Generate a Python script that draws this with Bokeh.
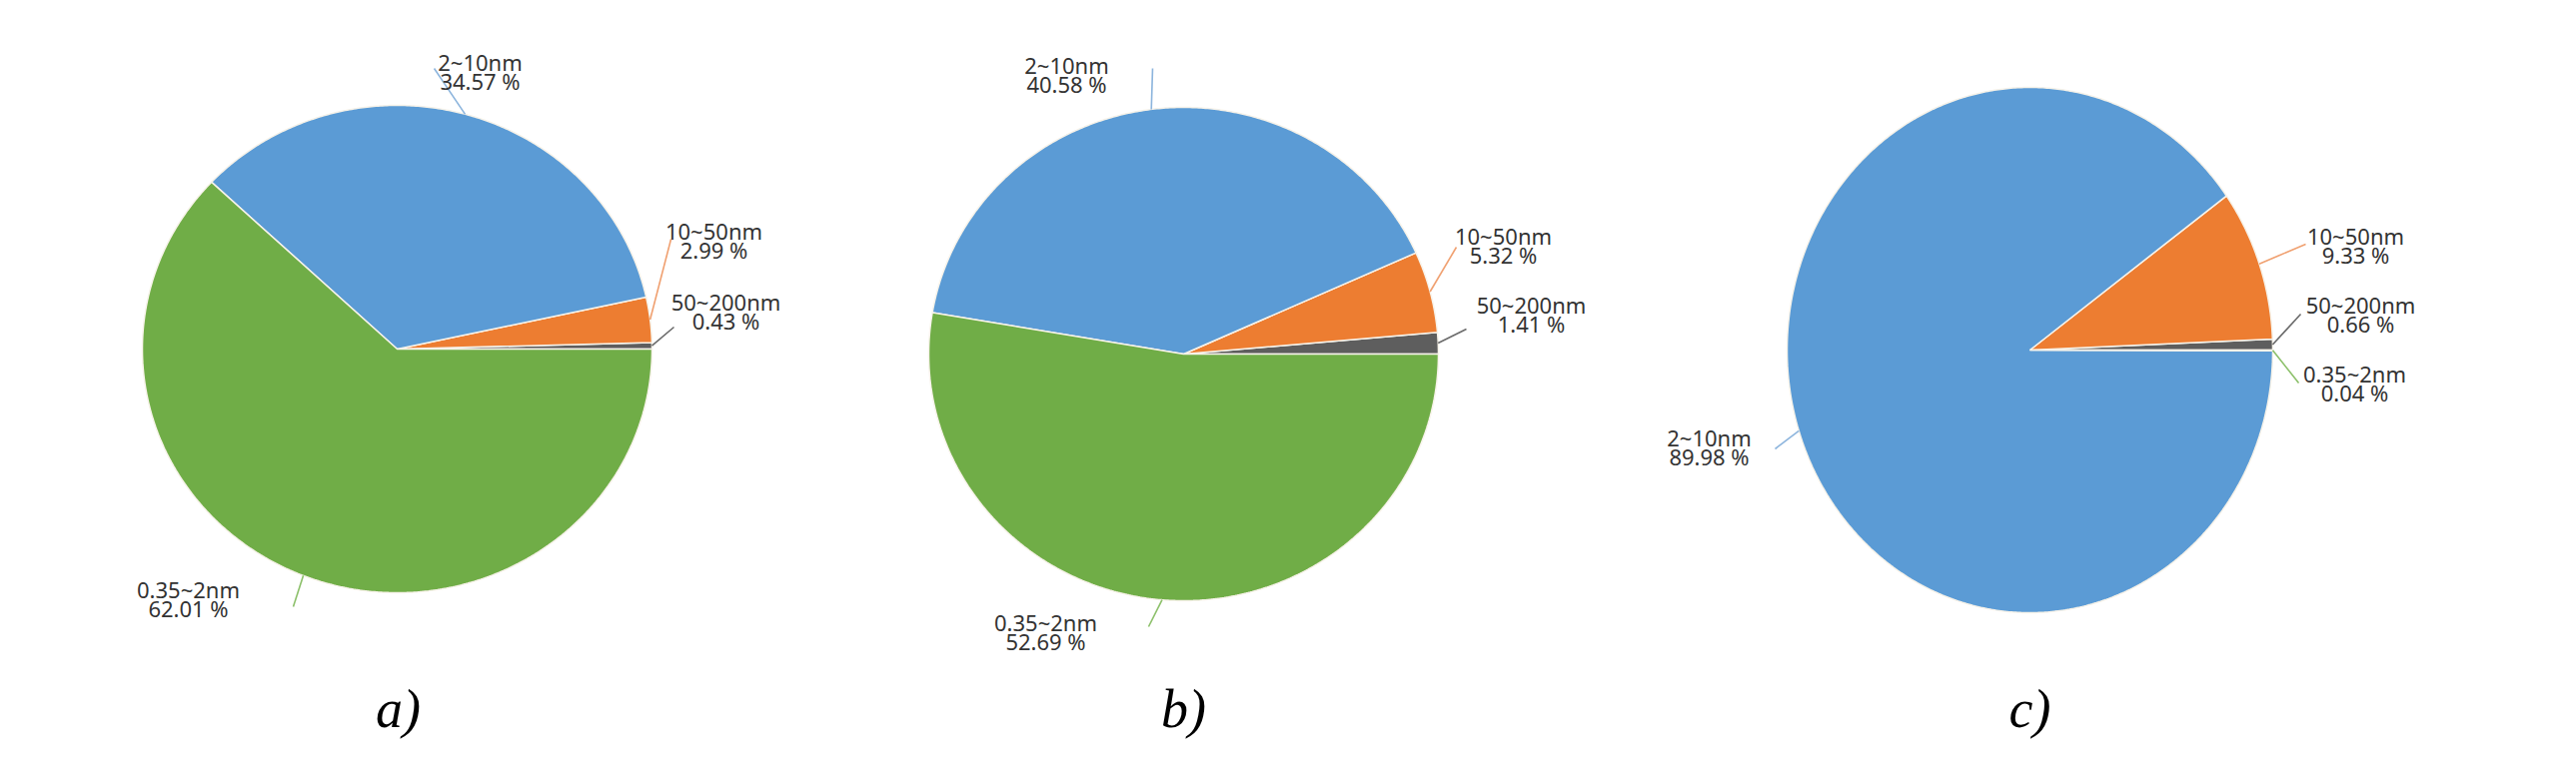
import numpy as np
from bokeh.plotting import figure
from bokeh.models import Range1d, ColumnDataSource
from bokeh.embed import file_html
from bokeh.resources import INLINE
from bokeh.core.properties import value

# ---------------- data ----------------
categories = ["50~200nm", "10~50nm", "2~10nm", "0.35~2nm"]   # counter-clockwise from 3 o'clock
sample_a = [0.43, 2.99, 34.57, 62.01]
sample_b = [1.41, 5.32, 40.58, 52.69]
sample_c = [0.66, 9.33, 89.98, 0.04]
panel_labels = ["a)", "b)", "c)"]

# ---------------- style / layout ----------------
slice_colors = ["#5e5e5e", "#ED7D31", "#5B9BD5", "#70AD47"]
leader_colors = ["#6a6a6a", "#F0A070", "#8DB5DD", "#8CC06A"]

W, H = 2560, 766
OFF = 8  # page margin -> data coords equal screenshot pixels
LINE_GAP = 19

pies = [
    dict(values=sample_a, cx=405, cy=357, rx=255, ry=244,
         label_pos=[(734, 294), (722, 223), (488, 54), (196, 582)],
         leader_end=[(682, 335), (679, 247), (442, 76), (301, 615)],
         panel=(406, 717)),
    dict(values=sample_b, cx=1192, cy=362, rx=255, ry=247,
         label_pos=[(1540, 297), (1512, 228), (1075, 57), (1054, 615)],
         leader_end=[(1475, 337), (1465, 255), (1161, 76), (1157, 635)],
         panel=(1192, 717)),
    dict(values=sample_c, cx=2039, cy=358, rx=243, ry=263,
         label_pos=[(2370, 297), (2365, 228), (1718, 430), (2364, 366)],
         leader_end=[(2310, 322), (2315, 252), (1784, 457), (2308, 391)],
         panel=(2039, 717)),
]

p = figure(width=W, height=H, x_range=Range1d(OFF, OFF + W), y_range=Range1d(OFF + H, OFF),
           output_backend="svg", toolbar_location=None, min_border=0,
           x_axis_location=None, y_axis_location=None)
p.grid.visible = False
p.outline_line_color = None
p.background_fill_color = "white"
p.border_fill_color = "white"

for k, pie in enumerate(pies):
    vals = np.array(pie["values"], dtype=float)
    frac = vals / vals.sum()
    ends = np.cumsum(frac) * 2 * np.pi
    starts = np.concatenate([[0.0], ends[:-1]])
    cx, cy, rx, ry = pie["cx"], pie["cy"], pie["rx"], pie["ry"]

    xs, ys = [], []
    for s, e in zip(starts, ends):
        n = max(3, int(np.degrees(e - s) * 2) + 2)
        th = np.linspace(s, e, n)
        xs.append([cx] + list(cx + rx * np.cos(th)))
        ys.append([cy] + list(cy - ry * np.sin(th)))
    p.patches(xs=xs, ys=ys, fill_color=slice_colors, line_color="#f7f3ea", line_width=1.5)

    mids = (starts + ends) / 2
    x0 = cx + rx * np.cos(mids)
    y0 = cy - ry * np.sin(mids)
    x1 = [q[0] for q in pie["leader_end"]]
    y1 = [q[1] for q in pie["leader_end"]]
    p.segment(x0=x0, y0=y0, x1=x1, y1=y1, line_color=leader_colors, line_width=1.6)

    lx = [q[0] for q in pie["label_pos"]]
    ly = [q[1] for q in pie["label_pos"]]
    src1 = ColumnDataSource(dict(x=lx, y=ly, text=list(categories)))
    src2 = ColumnDataSource(dict(x=lx, y=[v + LINE_GAP for v in ly],
                                 text=[f"{v:.2f} %" for v in pie["values"]]))
    for src in (src1, src2):
        p.text(x="x", y="y", text="text", source=src, text_align="center", text_baseline="top",
               text_font=value("Noto Sans"), text_font_size="22px", text_color="#333333")

    p.text(x=[pie["panel"][0]], y=[pie["panel"][1]], text=[panel_labels[k]],
           text_align="center", text_baseline="middle",
           text_font=value("Liberation Serif"), text_font_style="italic",
           text_font_size="54px", text_color="black")

open("out.html", "w").write(file_html(p, INLINE))
